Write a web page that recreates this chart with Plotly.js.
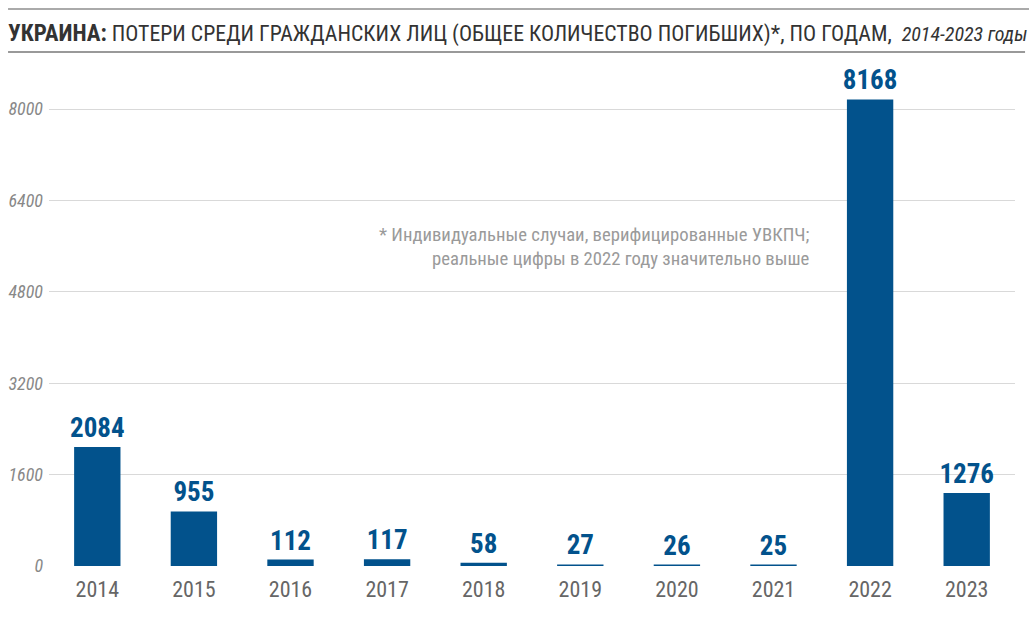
<!DOCTYPE html>
<html>
<head>
<meta charset="utf-8">
<script src="https://cdn.plot.ly/plotly-3.0.1.min.js"></script>
<style>html,body{margin:0;padding:0;background:#fff}#chart{width:1029px;height:617px}</style>
</head>
<body>
<div id="chart"></div>
<script>
const years = ["2014","2015","2016","2017","2018","2019","2020","2021","2022","2023"];
const deaths = [2084, 955, 112, 117, 58, 27, 26, 25, 8168, 1276];
const yTicks = [0, 1600, 3200, 4800, 6400, 8000];
const titleBold = "УКРАИНА:";
const titleMain = "ПОТЕРИ СРЕДИ ГРАЖДАНСКИХ ЛИЦ (ОБЩЕЕ КОЛИЧЕСТВО ПОГИБШИХ)*, ПО ГОДАМ,";
const titleSub = "2014-2023 годы";
const noteLines = ["* Индивидуальные случаи, верифицированные УВКПЧ;", "реальные цифры в 2022 году значительно выше"];

const FONT = "'Roboto Condensed', 'Liberation Sans Narrow', 'Arial Narrow', Roboto, sans-serif";
const BLUE = "#02528c";

const trace = {
  type: "bar",
  x: years,
  y: deaths,
  marker: {color: BLUE, line: {width: 0}},
  text: deaths.map(String),
  textposition: "outside",
  constraintext: "none",
  cliponaxis: false,
  textfont: {family: FONT, size: 27, color: BLUE, weight: 700},
  hoverinfo: "x+y"
};

const layout = {
  width: 1029, height: 617,
  margin: {l: 49, r: 14, t: 70, b: 51},
  paper_bgcolor: "#fff", plot_bgcolor: "#fff",
  bargap: 0.52,
  showlegend: false,
  font: {family: FONT},
  title: {
    text: "<span style='font-size:23px'><b>" + titleBold + "</b></span> " + titleMain + "  <i><span style='font-size:20px'>" + titleSub + "</span></i>",
    xref: "container", yref: "container",
    x: 8/1029, xanchor: "left",
    y: 1 - 33/617, yanchor: "middle",
    font: {family: FONT, size: 21.8, color: "#333"}
  },
  xaxis: {
    type: "category",
    tickfont: {family: FONT, size: 22, color: "#666"},
    showgrid: false, showline: false, zeroline: false,
    ticks: "", ticklen: 0, ticklabelstandoff: 8,
    fixedrange: true
  },
  yaxis: {
    range: [0, 8683],
    tickvals: yTicks,
    ticktext: yTicks.map(v => "<i>" + v + "</i>"),
    tickfont: {family: FONT, size: 18, color: "#888"},
    showgrid: true, gridcolor: "#d9d9d9", gridwidth: 1,
    zeroline: false, showline: false,
    ticks: "", ticklabelstandoff: 5, fixedrange: true
  },
  shapes: [
    {type: "line", xref: "paper", yref: "paper", x0: -0.0424, x1: 1.0145, y0: 1.123, y1: 1.123, line: {color: "#aaa", width: 2}},
    {type: "line", xref: "paper", yref: "paper", x0: -0.0424, x1: 1.0104, y0: 1.0363, y1: 1.0363, line: {color: "#999", width: 2}}
  ],
  annotations: [{
    xref: "paper", yref: "paper",
    x: 0.79, y: 0.643, xanchor: "right", yanchor: "middle",
    align: "right", showarrow: false,
    text: noteLines.join("<br>"),
    font: {family: FONT, size: 18.7, color: "#9a9a9a"}
  }]
};

Plotly.newPlot("chart", [trace], layout, {displayModeBar: false, staticPlot: true});
</script>
</body>
</html>
